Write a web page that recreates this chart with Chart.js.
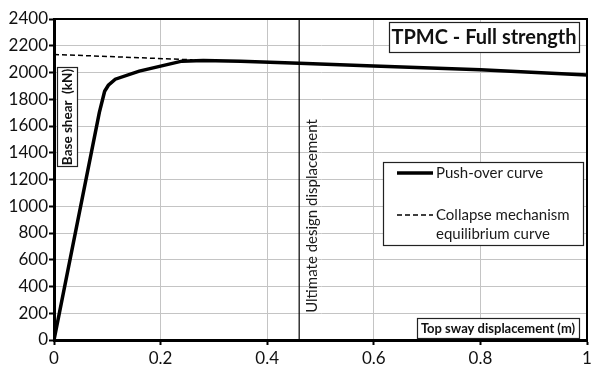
<!DOCTYPE html>
<html lang="en">
<head>
<meta charset="UTF-8">
<title>TPMC - Full strength</title>
<script src="https://cdn.jsdelivr.net/npm/chart.js"></script>
<style>
  html, body { margin: 0; padding: 0; background: #fff; }
  #wrap { width: 600px; height: 376px; position: relative; }
</style>
</head>
<body>
<div id="wrap"><canvas id="chart" width="600" height="376"></canvas></div>
<script>
// push-over curve (top sway displacement in m, base shear in kN)
const pushX = [0, 0.085, 0.095, 0.102, 0.115, 0.16, 0.2, 0.24, 0.28, 0.35, 0.46, 0.6, 0.8, 1.0];
const pushY = [0, 1700, 1860, 1905, 1950, 2010, 2048, 2085, 2090, 2085, 2070, 2048, 2020, 1982];
// collapse mechanism equilibrium curve
const collapseX = [0, 0.26];
const collapseY = [2135, 2095];
// ultimate design displacement
const ultimateX = 0.46;
const yRange = [0, 2400];

const xTicks = [0, 0.2, 0.4, 0.6, 0.8, 1];

const toPts = (xs, ys) => xs.map((x, i) => ({ x: x, y: ys[i] }));

const FONT = 'Lato, "Open Sans", sans-serif';

const overlay = {
  id: 'overlay',
  afterDraw(chart) {
    const ctx = chart.ctx;
    const a = chart.chartArea;
    const xs = chart.scales.x;
    ctx.save();
    // frame top and right
    ctx.strokeStyle = '#000';
    ctx.lineWidth = 2;
    ctx.beginPath();
    ctx.moveTo(a.left, a.top);
    ctx.lineTo(a.right, a.top);
    ctx.lineTo(a.right, a.bottom);
    ctx.stroke();

    const box = (x, y, w, h) => {
      ctx.fillStyle = '#fff';
      ctx.fillRect(x, y, w, h);
      ctx.strokeStyle = '#222';
      ctx.lineWidth = 1.2;
      ctx.strokeRect(x, y, w, h);
      ctx.fillStyle = '#111';
    };
    ctx.textAlign = 'center';
    ctx.textBaseline = 'middle';

    // title box
    box(389.5, 22.5, 190, 30);
    ctx.font = 'bold 20px ' + FONT;
    ctx.fillText('TPMC - Full strength', 484, 38);

    // y axis title box
    box(57.5, 67.5, 20, 99);
    ctx.save();
    ctx.translate(68, 117);
    ctx.rotate(-Math.PI / 2);
    ctx.font = 'bold 13.5px ' + FONT;
    ctx.fillText('Base shear  (kN)', 0, 0);
    ctx.restore();

    // x axis title box
    box(417.5, 318.5, 162, 20);
    ctx.font = 'bold 13px ' + FONT;
    ctx.fillText('Top sway displacement (m)', 498, 329);

    // ultimate label
    ctx.save();
    ctx.translate(xs.getPixelForValue(ultimateX) + 13, 216);
    ctx.rotate(-Math.PI / 2);
    ctx.font = '15px ' + FONT;
    ctx.fillStyle = '#1a1a1a';
    ctx.fillText('Ultimate design displacement', 0, 0);
    ctx.restore();

    // legend
    box(383.5, 162.5, 200, 83);
    ctx.strokeStyle = '#000';
    ctx.lineWidth = 3.5;
    ctx.beginPath();
    ctx.moveTo(397, 173);
    ctx.lineTo(433, 173);
    ctx.stroke();
    ctx.lineWidth = 1.5;
    ctx.setLineDash([5, 3]);
    ctx.beginPath();
    ctx.moveTo(397, 215);
    ctx.lineTo(433, 215);
    ctx.stroke();
    ctx.setLineDash([]);
    ctx.fillStyle = '#1a1a1a';
    ctx.textAlign = 'left';
    ctx.font = '15px ' + FONT;
    ctx.fillText('Push-over curve', 436, 173);
    ctx.fillText('Collapse mechanism', 436, 215);
    ctx.fillText('equilibrium curve', 436, 234);
    ctx.restore();
  }
};

new Chart(document.getElementById('chart'), {
  type: 'scatter',
  data: {
    datasets: [
      {
        label: 'Push-over curve',
        data: toPts(pushX, pushY),
        showLine: true,
        borderColor: '#000',
        borderWidth: 3.5,
        pointRadius: 0,
        tension: 0
      },
      {
        label: 'Collapse mechanism equilibrium curve',
        data: toPts(collapseX, collapseY),
        showLine: true,
        borderColor: '#000',
        borderWidth: 1.5,
        borderDash: [5, 3],
        pointRadius: 0
      },
      {
        label: 'Ultimate design displacement',
        data: toPts([ultimateX, ultimateX], yRange),
        showLine: true,
        borderColor: '#000',
        borderWidth: 1.2,
        pointRadius: 0
      }
    ]
  },
  options: {
    responsive: false,
    animation: false,
    layout: { padding: { left: 0, right: 13, top: 19, bottom: 0 } },
    plugins: { legend: { display: false }, tooltip: { enabled: false } },
    scales: {
      x: {
        type: 'linear',
        min: 0,
        max: 1,
        afterBuildTicks: s => { s.ticks = xTicks.map(v => ({ value: v })); },
        afterFit: s => { s.height = 36; },
        grid: { color: '#c4c4c4', lineWidth: 1, tickColor: '#000', tickLength: 5, tickWidth: 2 },
        border: { color: '#000', width: 3 },
        ticks: {
          color: '#111',
          font: { family: FONT, size: 17 },
          padding: 3,
          maxRotation: 0,
          callback: v => String(v)
        }
      },
      y: {
        min: yRange[0],
        max: yRange[1],
        afterFit: s => { s.width = 54; },
        grid: { color: '#c4c4c4', lineWidth: 1, tickColor: '#000', tickLength: 5, tickWidth: 2 },
        border: { color: '#000', width: 3 },
        ticks: {
          stepSize: 200,
          color: '#111',
          font: { family: FONT, size: 17 },
          padding: 1,
          callback: v => String(v)
        }
      }
    }
  },
  plugins: [overlay]
});
</script>
</body>
</html>
